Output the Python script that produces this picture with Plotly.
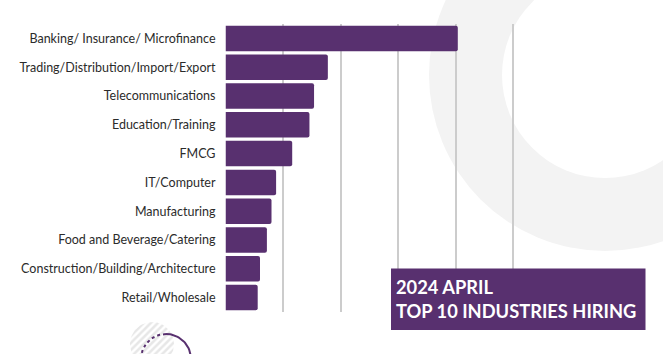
import numpy as np
import plotly.graph_objects as go

W, H = 663, 354

industries = [
    "Banking/ Insurance/ Microfinance",
    "Trading/Distribution/Import/Export",
    "Telecommunications",
    "Education/Training",
    "FMCG",
    "IT/Computer",
    "Manufacturing",
    "Food and Beverage/Catering",
    "Construction/Building/Architecture",
    "Retail/Wholesale",
]
shares = [20.2, 8.9, 7.7, 7.3, 5.8, 4.4, 4.0, 3.6, 3.0, 2.8]

title_lines = ["2024 APRIL", "TOP 10 INDUSTRIES HIRING"]

PURPLE = "#58306f"
FONT = "Lato"

def px(x):
    return x / W

def py(y):
    return (H - y) / H

fig = go.Figure()

fig.add_trace(go.Bar(
    x=shares, y=industries, orientation="h",
    marker=dict(color=PURPLE, line=dict(width=0)),
    xaxis="x", yaxis="y", showlegend=False, hoverinfo="x+y",
))

# decorative hatched circle (bottom-left), in pixel-space overlay axes
t = np.linspace(0, 2 * np.pi, 90)
cx, cy, r = 152, 344, 22
fig.add_trace(go.Scatter(
    x=cx + r * np.cos(t), y=cy + r * np.sin(t), mode="lines",
    fill="toself", line=dict(width=0, color="rgba(0,0,0,0)"),
    fillcolor="rgba(0,0,0,0)",
    fillpattern=dict(shape="/", fgcolor="#cfcfcf", bgcolor="rgba(0,0,0,0)", size=5, solidity=0.5),
    xaxis="x2", yaxis="y2", showlegend=False, hoverinfo="skip",
))
pcx, pcy, pr = 166, 359, 25
ta = np.radians(np.linspace(90, 205, 40))
fig.add_trace(go.Scatter(
    x=pcx + pr * np.cos(ta), y=pcy - pr * np.sin(ta), mode="lines",
    line=dict(color=PURPLE, width=2, dash="dot"),
    xaxis="x2", yaxis="y2", showlegend=False, hoverinfo="skip",
))
tb = np.radians(np.linspace(-30, 90, 40))
fig.add_trace(go.Scatter(
    x=pcx + pr * np.cos(tb), y=pcy - pr * np.sin(tb), mode="lines",
    line=dict(color=PURPLE, width=2),
    xaxis="x2", yaxis="y2", showlegend=False, hoverinfo="skip",
))

shapes = []
# big background ring
ccx, ccy = 605, 75
for rr, col in [(176, "#f3f3f3"), (103, "#ffffff")]:
    shapes.append(dict(type="circle", xref="paper", yref="paper", layer="below",
                       x0=px(ccx - rr), x1=px(ccx + rr), y0=py(ccy + rr), y1=py(ccy - rr),
                       fillcolor=col, line=dict(width=0)))
# title box
shapes.append(dict(type="rect", xref="paper", yref="paper", layer="above",
                   x0=px(391), x1=px(645.5), y0=py(330), y1=py(268.5),
                   fillcolor=PURPLE, line=dict(width=0)))

annotations = [
    dict(text=title_lines[0], xref="paper", yref="paper", x=px(394), y=py(287),
         xanchor="left", yanchor="middle", showarrow=False,
         font=dict(family=FONT, size=18.3, color="white", weight="bold")),
    dict(text=title_lines[1], xref="paper", yref="paper", x=px(394), y=py(311),
         xanchor="left", yanchor="middle", showarrow=False,
         font=dict(family=FONT, size=18.3, color="white", weight="bold")),
]

x0_px, ppu = 225.5, 11.5
xmax = 26
fig.update_layout(
    width=W, height=H,
    margin=dict(l=0, r=0, t=0, b=0),
    paper_bgcolor="white", plot_bgcolor="rgba(0,0,0,0)",
    bargap=0.115, barcornerradius=2,
    xaxis=dict(domain=[px(x0_px), px(x0_px + ppu * xmax)], range=[0, xmax],
               dtick=5, tick0=0, showgrid=True, gridcolor="#cccccc", gridwidth=1.5,
               zeroline=True, zerolinecolor="rgba(0,0,0,0)", showticklabels=False,
               showline=False, fixedrange=True),
    yaxis=dict(domain=[py(312), py(24)], autorange="reversed", showgrid=False,
               zeroline=False, showline=False, ticks="", ticklabelstandoff=9,
               tickfont=dict(family=FONT, size=12.5, color="#2b2b2b"),
               automargin=False, fixedrange=True),
    xaxis2=dict(domain=[0, 1], range=[0, W], visible=False, anchor="y2", fixedrange=True),
    yaxis2=dict(domain=[0, 1], range=[H, 0], visible=False, anchor="x2", fixedrange=True),
    shapes=shapes, annotations=annotations,
)

fig.write_html("out.html")
